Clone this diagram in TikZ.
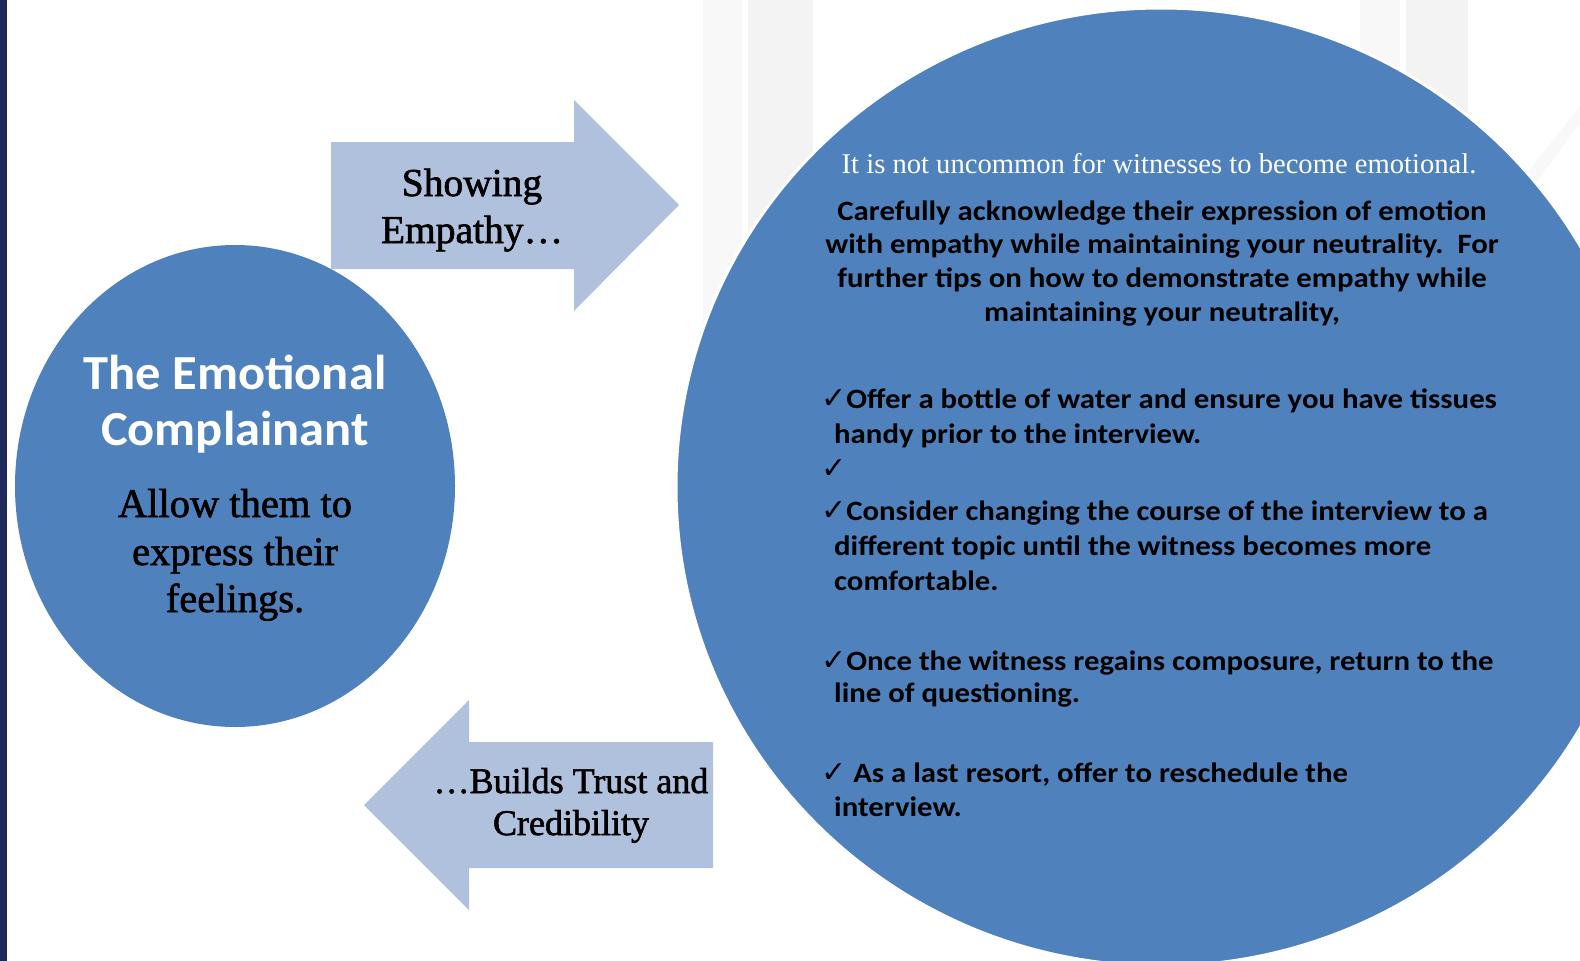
\documentclass[tikz,border=0pt]{standalone}
\usepackage{fontspec}
\setmainfont{Liberation Serif}
\newfontfamily\calbody{Carlito}[FakeStretch=1.1]
\newfontfamily\caltitle{Carlito}[FakeStretch=1.03]
\newfontfamily\serfam{Liberation Serif}
\newfontfamily\serheavy{Liberation Serif}[FakeBold=1.6]
\newfontfamily\symfam{DejaVu Sans}
\newcommand\fsz[1]{\fontsize{#1}{#1}\selectfont}
\newcommand\chk{{\symfam\mdseries\fsz{30}✓}}

\definecolor{circblue}{HTML}{4F81BD}
\definecolor{arrowblue}{HTML}{B0C1DD}
\definecolor{navybar}{HTML}{1F2A5C}
\definecolor{stripeA}{HTML}{F8F8F8}
\definecolor{stripeB}{HTML}{F3F3F3}

\tikzset{
  txt/.style={inner sep=0pt, anchor=base},
  arrowlabel/.style={txt, text=black},
  titletext/.style={txt, text=white, font=\caltitle\bfseries\fsz{49}},
  bodyserif/.style={txt, text=black, font=\serheavy\fsz{40.5}},
  headserif/.style={txt, text=white, font=\serfam\fsz{28.6}},
  paratext/.style={txt, text=black, font=\calbody\bfseries\fsz{28}},
  bullettext/.style={paratext, anchor=base west},
  blockarrow/.style={fill=arrowblue, draw=none},
  bubble/.style={fill=circblue},
}

\begin{document}
\begin{tikzpicture}[x=1pt, y=-1pt]
  \useasboundingbox (0,0) rectangle (1580,961);
  \clip (0,0) rectangle (1580,961);
  \fill[white] (0,0) rectangle (1580,961);

  % faint background stripes
  \fill[stripeA] (703,0) rectangle (742,640);
  \fill[stripeB] (748,0) rectangle (813,640);
  \fill[stripeA] (1360,0) rectangle (1400,300);
  \fill[stripeB] (1406,0) rectangle (1468,300);
  \fill[stripeA] (1580,106) -- (1580,122) -- (1530,192) -- (1520,182) -- cycle;

  % navy edge bar
  \fill[navybar] (0,0) rectangle (7,961);

  % block arrows
  \fill[blockarrow] (331,142) -- (574,142) -- (574,100) -- (679,205) -- (574,311)
        -- (574,269) -- (331,269) -- cycle;
  \fill[blockarrow] (713,742) -- (469,742) -- (469,700) -- (364,805) -- (469,910)
        -- (469,868) -- (713,868) -- cycle;

  % circles
  \path[bubble] (235,486) ellipse [x radius=220pt, y radius=241pt];
  \path[bubble, draw=white, line width=3pt] (1161,487) ellipse [x radius=485pt, y radius=479pt];

  % arrow labels
  \node[arrowlabel, font=\serheavy\fsz{39.5}] (show1) at (472,196) {Showing};
  \node[arrowlabel, font=\serheavy\fsz{39.5}] (show2) at (472,243) {Empathy…};
  \node[arrowlabel, font=\serheavy\fsz{36}] (trust1) at (571,793) {…Builds Trust and};
  \node[arrowlabel, font=\serheavy\fsz{36}] (trust2) at (571,835) {Credibility};

  % left circle text
  \node[titletext] (title1) at (235,389) {The Emotional};
  \node[titletext] (title2) at (235,445) {Complainant};
  \node[bodyserif] (allow1) at (235,517) {Allow them to};
  \node[bodyserif] (allow2) at (235,565) {express their};
  \node[bodyserif] (allow3) at (235,612) {feelings.};

  % right circle text
  \node[headserif] (head) at (1159,173) {It is not uncommon for witnesses to become emotional.};
  \node[paratext] (para1) at (1162,220) {Carefully acknowledge their expression of emotion};
  \node[paratext] (para2) at (1162,253.5) {with empathy while maintaining your neutrality.\ \ For};
  \node[paratext] (para3) at (1162,287.5) {further tips on how to demonstrate empathy while};
  \node[paratext] (para4) at (1162,321) {maintaining your neutrality,};

  \node[bullettext] (b1a) at (821,408) {\chk Offer a bottle of water and ensure you have tissues};
  \node[bullettext] (b1b) at (834,443) {handy prior to the interview.};
  \node[bullettext] (b2a) at (821,478) {\chk};
  \node[bullettext] (b3a) at (821,520) {\chk Consider changing the course of the interview to a};
  \node[bullettext] (b3b) at (834,555) {different topic until the witness becomes more};
  \node[bullettext] (b3c) at (834,590) {comfortable.};
  \node[bullettext] (b4a) at (821,670) {\chk Once the witness regains composure, return to the};
  \node[bullettext] (b4b) at (834,702) {line of questioning.};
  \node[bullettext] (b5a) at (821,782) {\chk\ As a last resort, offer to reschedule the};
  \node[bullettext] (b5b) at (834,816) {interview.};
\end{tikzpicture}
\end{document}
